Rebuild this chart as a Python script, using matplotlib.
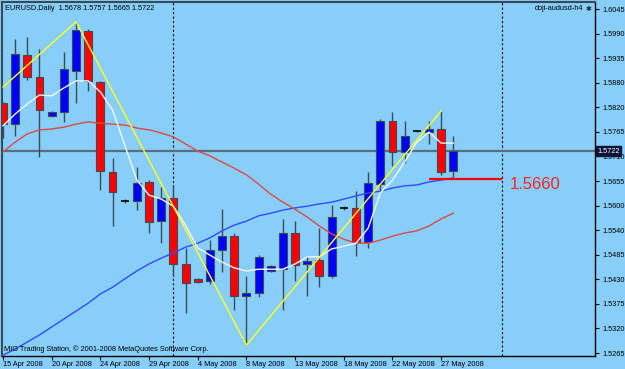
import numpy as np
import matplotlib
matplotlib.use("Agg")
import matplotlib.pyplot as plt

# daily bars (MT4 with Sunday bars)
dates = ['15 Apr', '16 Apr', '17 Apr', '18 Apr', '20 Apr', '21 Apr', '22 Apr', '23 Apr',
         '24 Apr', '25 Apr', '27 Apr', '28 Apr', '29 Apr', '30 Apr', '1 May', '2 May',
         '4 May', '5 May', '6 May', '7 May', '8 May', '9 May', '11 May', '12 May',
         '13 May', '14 May', '15 May', '16 May', '18 May', '19 May', '20 May', '21 May',
         '22 May', '23 May', '25 May', '26 May', '27 May', '28 May']

opens = [1.5832, 1.5784, 1.5941, 1.5891, 1.5802, 1.5811, 1.5904, 1.5995,
         1.5879, 1.5675, 1.5609, 1.5609, 1.5653, 1.5564, 1.5616, 1.5467,
         1.5433, 1.5428, 1.5498, 1.5530, 1.5394, 1.5401, 1.5451, 1.5455,
         1.5537, 1.5467, 1.5476, 1.5439, 1.5594, 1.5594, 1.5517, 1.5648,
         1.5791, 1.5721, 1.5768, 1.5766, 1.5773, 1.5678]
highs = [1.5835, 1.5977, 1.5982, 1.5954, 1.5813, 1.5947, 1.6016, 1.6000,
         1.5882, 1.5707, 1.5614, 1.5687, 1.5657, 1.5641, 1.5646, 1.5503,
         1.5435, 1.5521, 1.5591, 1.5537, 1.5439, 1.5487, 1.5464, 1.5569,
         1.5564, 1.5485, 1.5548, 1.5600, 1.5598, 1.5632, 1.5675, 1.5795,
         1.5811, 1.5791, 1.5770, 1.5791, 1.5814, 1.5757]
lows = [1.5752, 1.5757, 1.5884, 1.5709, 1.5800, 1.5789, 1.5832, 1.5859,
        1.5634, 1.5553, 1.5604, 1.5589, 1.5537, 1.5514, 1.5440, 1.5356,
        1.5424, 1.5421, 1.5449, 1.5362, 1.5283, 1.5392, 1.5449, 1.5362,
        1.5428, 1.5394, 1.5414, 1.5435, 1.5589, 1.5485, 1.5503, 1.5628,
        1.5689, 1.5696, 1.5766, 1.5739, 1.5669, 1.5665]
closes = [1.5784, 1.5943, 1.5891, 1.5816, 1.5811, 1.5909, 1.5997, 1.5882,
          1.5678, 1.5630, 1.5609, 1.5650, 1.5562, 1.5616, 1.5467, 1.5424,
          1.5426, 1.5498, 1.5530, 1.5394, 1.5401, 1.5483, 1.5462, 1.5537,
          1.5464, 1.5473, 1.5439, 1.5573, 1.5594, 1.5517, 1.5650, 1.5791,
          1.5721, 1.5757, 1.5768, 1.5773, 1.5675, 1.5722]

# moving averages
ma_white = [1.5780, 1.5807, 1.5830, 1.5850, 1.5848, 1.5866, 1.5882, 1.5882,
            1.5857, 1.5816, 1.5737, 1.5657, 1.5623, 1.5614, 1.5598, 1.5555,
            1.5503, 1.5487, 1.5471, 1.5458, 1.5451, 1.5455, 1.5455, 1.5455,
            1.5467, 1.5483, 1.5483, 1.5501, 1.5507, 1.5514, 1.5548, 1.5628,
            1.5657, 1.5698, 1.5743, 1.5766, 1.5741, 1.5741]
ma_red = [1.5721, 1.5743, 1.5762, 1.5771, 1.5773, 1.5777, 1.5784, 1.5789,
          1.5786, 1.5784, 1.5782, 1.5775, 1.5771, 1.5764, 1.5755, 1.5739,
          1.5723, 1.5712, 1.5698, 1.5684, 1.5669, 1.5648, 1.5625, 1.5607,
          1.5591, 1.5573, 1.5553, 1.5535, 1.5523, 1.5514, 1.5514, 1.5521,
          1.5530, 1.5537, 1.5542, 1.5553, 1.5569, 1.5582]
ma_blue = [1.5260, 1.5274, 1.5290, 1.5306, 1.5324, 1.5342, 1.5360, 1.5378,
           1.5399, 1.5414, 1.5433, 1.5451, 1.5467, 1.5480, 1.5492, 1.5505,
           1.5514, 1.5526, 1.5542, 1.5555, 1.5564, 1.5576, 1.5582, 1.5589,
           1.5594, 1.5598, 1.5603, 1.5607, 1.5614, 1.5621, 1.5628, 1.5632,
           1.5639, 1.5644, 1.5646, 1.5653, 1.5657, 1.5662]

# zigzag pivots (bar index, price)
zz_bars = [0, 6, 20, 36]
zz_prices = [1.5868, 1.6016, 1.5283, 1.5814]

price_labels = ['1.5265', '1.5320', '1.5375', '1.5430', '1.5485', '1.5540', '1.5600',
                '1.5655', '1.5710', '1.5765', '1.5820', '1.5880', '1.5935', '1.5990', '1.6045']

last_price = 1.5722
support = 1.5660
separators = [14, 41]

bg = '#87cefa'
edge = '#3c4a54'
plt.rcParams['font.family'] = ['Liberation Sans', 'DejaVu Sans']
fs = 5.3

fig = plt.figure(figsize=(6.25, 3.69), dpi=100, facecolor=bg)
ax = fig.add_axes([2 / 625, 13 / 369, 593 / 625, 354 / 369], facecolor=bg)

x = np.arange(len(dates))
o = np.array(opens)
c = np.array(closes)

# candles
ax.vlines(x, lows, highs, color=edge, lw=1, zorder=2)
for i in x:
    lo, hi = min(o[i], c[i]), max(o[i], c[i])
    if hi - lo < 0.00015:
        ax.hlines(o[i], i - 0.33, i + 0.33, color='black', lw=1.2, zorder=3)
    else:
        col = '#0000ff' if c[i] > o[i] else '#ff0000'
        ax.bar(i, hi - lo, bottom=lo, width=0.65, color=col, edgecolor=edge,
               linewidth=0.8, zorder=3)

ax.plot(x, ma_blue, color='#2f4cff', lw=1, zorder=4)
ax.plot(x, ma_red, color='#e04848', lw=1, zorder=4)
ax.plot(x, ma_white, color='#f4f8ff', lw=1, zorder=4)
ax.plot(zz_bars, zz_prices, color='#ffff20', lw=1, zorder=4)

ax.axhline(last_price, color='#5c6e7c', lw=1.6, zorder=1.5)
for s in separators:
    ax.axvline(s, color='black', lw=0.8, ls=(0, (2, 2)), zorder=1)

ax.hlines(support, 35, 41, color='#ff0000', lw=1.6, zorder=5)
ax.text(41.6, support + 0.0003, f'{support:.4f}', color='#ff2020', fontsize=12,
        va='top', ha='left', zorder=6)

ax.set_xlim(-0.08, 48.64)
ax.set_ylim(1.52582, 1.60609)

ax.set_yticks(np.linspace(1.5265, 1.6045, len(price_labels)))
ax.set_yticklabels(price_labels)
ax.yaxis.tick_right()
ax.tick_params(axis='y', direction='out', length=3, pad=2, labelsize=fs)

tick_idx = x[::4]
ax.set_xticks(tick_idx)
ax.set_xticklabels([f'{dates[i]} 2008' for i in tick_idx], ha='left')
ax.tick_params(axis='x', direction='out', length=3, pad=0.5, labelsize=fs)

for side in ['left', 'top']:
    ax.spines[side].set_color('#3a4a55')
    ax.spines[side].set_linewidth(1.5)
for side in ['right', 'bottom']:
    ax.spines[side].set_color('black')
    ax.spines[side].set_linewidth(1)

# last price box on the axis
ax.text(1.004, last_price, f'{last_price:.4f}', transform=ax.get_yaxis_transform(),
        color='white', fontsize=fs, va='center', ha='left', zorder=10, clip_on=False,
        bbox=dict(boxstyle='square,pad=0.2', facecolor='#0a1438', edgecolor='#0a1438'))

fig.text(5 / 625, 1 - 8 / 369,
         f'EURUSD,Daily  {opens[-1]:.4f} {highs[-1]:.4f} {lows[-1]:.4f} {closes[-1]:.4f}',
         fontsize=fs, va='center', ha='left', color='black')
fig.text(583 / 625, 1 - 9 / 369, 'doji-audusd-h4', fontsize=fs, va='center',
         ha='right', color='black')
fig.text(589 / 625, 1 - 9 / 369, '\u2731', fontsize=5, va='center', ha='center',
         color='#202020', family='DejaVu Sans')
fig.text(4 / 625, 1 - 349 / 369,
         'MIG Trading Station, \u00a9 2001-2008 MetaQuotes Software Corp.',
         fontsize=fs, va='center', ha='left', color='black')

fig.savefig('out.png', dpi=100, facecolor=bg)
